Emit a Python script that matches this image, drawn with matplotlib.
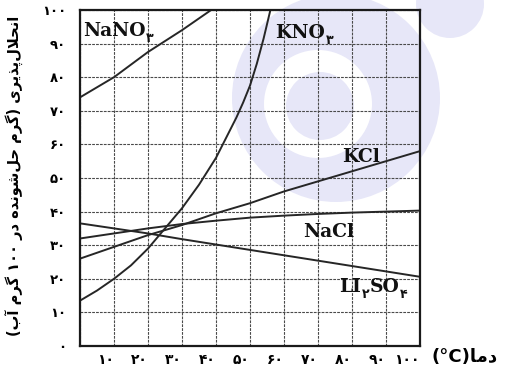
import re
import matplotlib
matplotlib.use("Agg")
import matplotlib.pyplot as plt
from matplotlib.patches import Ellipse

# ---------------- data ----------------
temps = [0, 10, 20, 30, 40, 50, 60, 70, 80, 90, 100]
nano3_t = [0, 10, 20, 30, 40]
nano3 = [74, 80, 87.5, 94, 101]
kno3_t = [0, 5, 10, 15, 20, 25, 30, 35, 40, 42, 44, 46, 48, 50, 52, 54, 56]
kno3 = [13.5, 16.5, 20, 24, 29, 35, 41, 48, 56, 60, 64, 68, 72.5, 77.5, 84, 91.5, 100]
kcl = [26, 29.5, 33, 36, 39.5, 42.5, 46, 49, 52, 55, 58]
nacl = [32, 33.5, 35, 36.3, 37.3, 38.2, 38.8, 39.3, 39.7, 40, 40.3]
li2so4 = [36.5, 35, 33.5, 31.8, 30.2, 28.6, 27, 25.4, 23.8, 22.2, 20.6]

xticks = [10, 20, 30, 40, 50, 60, 70, 80, 90, 100]
xtick_labels = ["۱۰", "۲۰", "۳۰", "۴۰", "۵۰", "۶۰", "۷۰", "۸۰", "۹۰", "۱۰۰"]
yticks = [0, 10, 20, 30, 40, 50, 60, 70, 80, 90, 100]
ytick_labels = ["۰", "۱۰", "۲۰", "۳۰", "۴۰", "۵۰", "۶۰", "۷۰", "۸۰", "۹۰", "۱۰۰"]
ylabel = "انحلال‌پذیری (گرم حل‌شونده در ۱۰۰ گرم آب)"
xlabel = "دما(°C)"

# series labels: list of (text, is_subscript) pieces
lab_nano3 = [("NaNO", False), ("۳", True)]
lab_kno3 = [("KNO", False), ("۳", True)]
lab_kcl = [("KCl", False)]
lab_nacl = [("NaCl", False)]
lab_li2so4 = [("LI", False), ("۲", True), ("SO", False), ("۴", True)]

# ------------- minimal Persian shaping (matplotlib has no shaping) -------------
FORMS = {
    'ا': ('\uFE8D', '\uFE8E', None, None),
    'آ': ('\uFE81', '\uFE82', None, None),
    'ب': ('\uFE8F', '\uFE90', '\uFE91', '\uFE92'),
    'پ': ('\uFB56', '\uFB57', '\uFB58', '\uFB59'),
    'ح': ('\uFEA1', '\uFEA2', '\uFEA3', '\uFEA4'),
    'د': ('\uFEA9', '\uFEAA', None, None),
    'ذ': ('\uFEAB', '\uFEAC', None, None),
    'ر': ('\uFEAD', '\uFEAE', None, None),
    'ش': ('\uFEB5', '\uFEB6', '\uFEB7', '\uFEB8'),
    'گ': ('\uFB92', '\uFB93', '\uFB94', '\uFB95'),
    'ل': ('\uFEDD', '\uFEDE', '\uFEDF', '\uFEE0'),
    'م': ('\uFEE1', '\uFEE2', '\uFEE3', '\uFEE4'),
    'ن': ('\uFEE5', '\uFEE6', '\uFEE7', '\uFEE8'),
    'و': ('\uFEED', '\uFEEE', None, None),
    'ه': ('\uFEE9', '\uFEEA', '\uFEEB', '\uFEEC'),
    'ی': ('\uFBFC', '\uFBFD', '\uFBFE', '\uFBFF'),
}


def shape(s):
    ch = list(s)
    n = len(ch)
    res = []
    i = 0
    while i < n:
        c = ch[i]
        if c not in FORMS:
            if c != '\u200c':
                res.append(c)
            i += 1
            continue
        prev = ch[i - 1] if i > 0 else None
        jp = prev in FORMS and FORMS[prev][2] is not None
        if c == 'ل' and i + 1 < n and ch[i + 1] in 'اآ':
            lig = ('\uFEFB', '\uFEFC') if ch[i + 1] == 'ا' else ('\uFEF5', '\uFEF6')
            res.append(lig[1] if jp else lig[0])
            i += 2
            continue
        nxt = ch[i + 1] if i + 1 < n else None
        jn = FORMS[c][2] is not None and nxt in FORMS
        iso, fin, ini, med = FORMS[c]
        res.append(med if (jp and jn) else fin if jp else ini if jn else iso)
        i += 1
    return ''.join(res)


def rtl(s):
    toks = re.findall(r'[0-9۰-۹A-Za-z°]+|.', shape(s))[::-1]
    sw = {'(': ')', ')': '('}
    return ''.join(sw.get(t, t) for t in toks)


# ---------------- figure ----------------
W, H = 516, 376
fig = plt.figure(figsize=(W / 100, H / 100), dpi=100)
fig.patch.set_facecolor('white')

# faint watermark behind the chart
for (cx, cy, r, col) in [(336, 98, 104, '#e7e7f8'), (318, 104, 54, 'white'),
                         (320, 106, 34, '#e7e7f8'), (450, 4, 34, '#e7e7f8')]:
    fig.patches.append(Ellipse((cx / W, 1 - cy / H), 2 * r / W, 2 * r / H,
                               transform=fig.transFigure, facecolor=col,
                               edgecolor='none', zorder=-5))

ax = fig.add_axes([80 / W, 30 / H, 340 / W, 336 / H])
ax.set_zorder(3)
ax.set_facecolor('none')
ax.set_xlim(0, 100)
ax.set_ylim(0, 100)

ax.set_xticks(temps)
ax.set_yticks(yticks)
ax.grid(True, color='#4a4a4a', lw=0.8, linestyle=(0, (2.5, 1)))
ax.set_axisbelow(True)

ax.set_xticklabels([''] + xtick_labels)
ax.set_yticklabels(ytick_labels)
for lab in ax.get_xticklabels():
    lab.set_fontfamily('DejaVu Sans')
    lab.set_fontweight('bold')
    lab.set_fontsize(10)
    lab.set_horizontalalignment('right')
for lab in ax.get_yticklabels():
    lab.set_fontfamily('DejaVu Sans')
    lab.set_fontweight('bold')
    lab.set_fontsize(9.5)
ax.tick_params(axis='x', length=0, pad=5)
ax.tick_params(axis='y', length=0, pad=10)

for sp in ax.spines.values():
    sp.set_linewidth(1.6)
    sp.set_color('#1a1a1a')

lc = '#262626'
lw = 1.4
ax.plot(nano3_t, nano3, color=lc, lw=lw)
ax.plot(kno3_t, kno3, color=lc, lw=lw)
ax.plot(temps, kcl, color=lc, lw=lw)
ax.plot(temps, nacl, color=lc, lw=lw)
ax.plot(temps, li2so4, color=lc, lw=lw)

renderer = fig.canvas.get_renderer()
main = dict(fontfamily='DejaVu Serif', fontweight='bold', fontsize=13.5, color='#111')
subs = dict(fontfamily='DejaVu Sans', fontweight='bold', fontsize=9, color='#111')


def put_label(x, y, parts):
    # x, y in data coords (baseline-left of the first piece)
    px, py = ax.transData.transform((x, y))
    for txt, is_sub in parts:
        kw = subs if is_sub else main
        yy = py - (6 if is_sub else 0)
        xd, yd = ax.transData.inverted().transform((px, yy))
        t = ax.text(xd, yd, txt, ha='left', va='baseline', **kw)
        bb = t.get_window_extent(renderer)
        px = bb.x1 + 0.5


put_label(0.8, 92.3, lab_nano3)
put_label(57.5, 91.8, lab_kno3)
put_label(77.0, 54.8, lab_kcl)
put_label(65.6, 32.4, lab_nacl)
put_label(76.2, 16.0, lab_li2so4)

fig.text(465 / W, 1 - 357 / H, rtl(xlabel), ha='center', va='center',
         fontfamily='DejaVu Sans', fontweight='bold', fontsize=13)
fig.text(15 / W, 1 - 176 / H, rtl(ylabel), ha='center', va='center', rotation=90,
         fontfamily='DejaVu Sans', fontweight='bold', fontsize=10.5)

fig.savefig('out.png', dpi=100, facecolor='white')
